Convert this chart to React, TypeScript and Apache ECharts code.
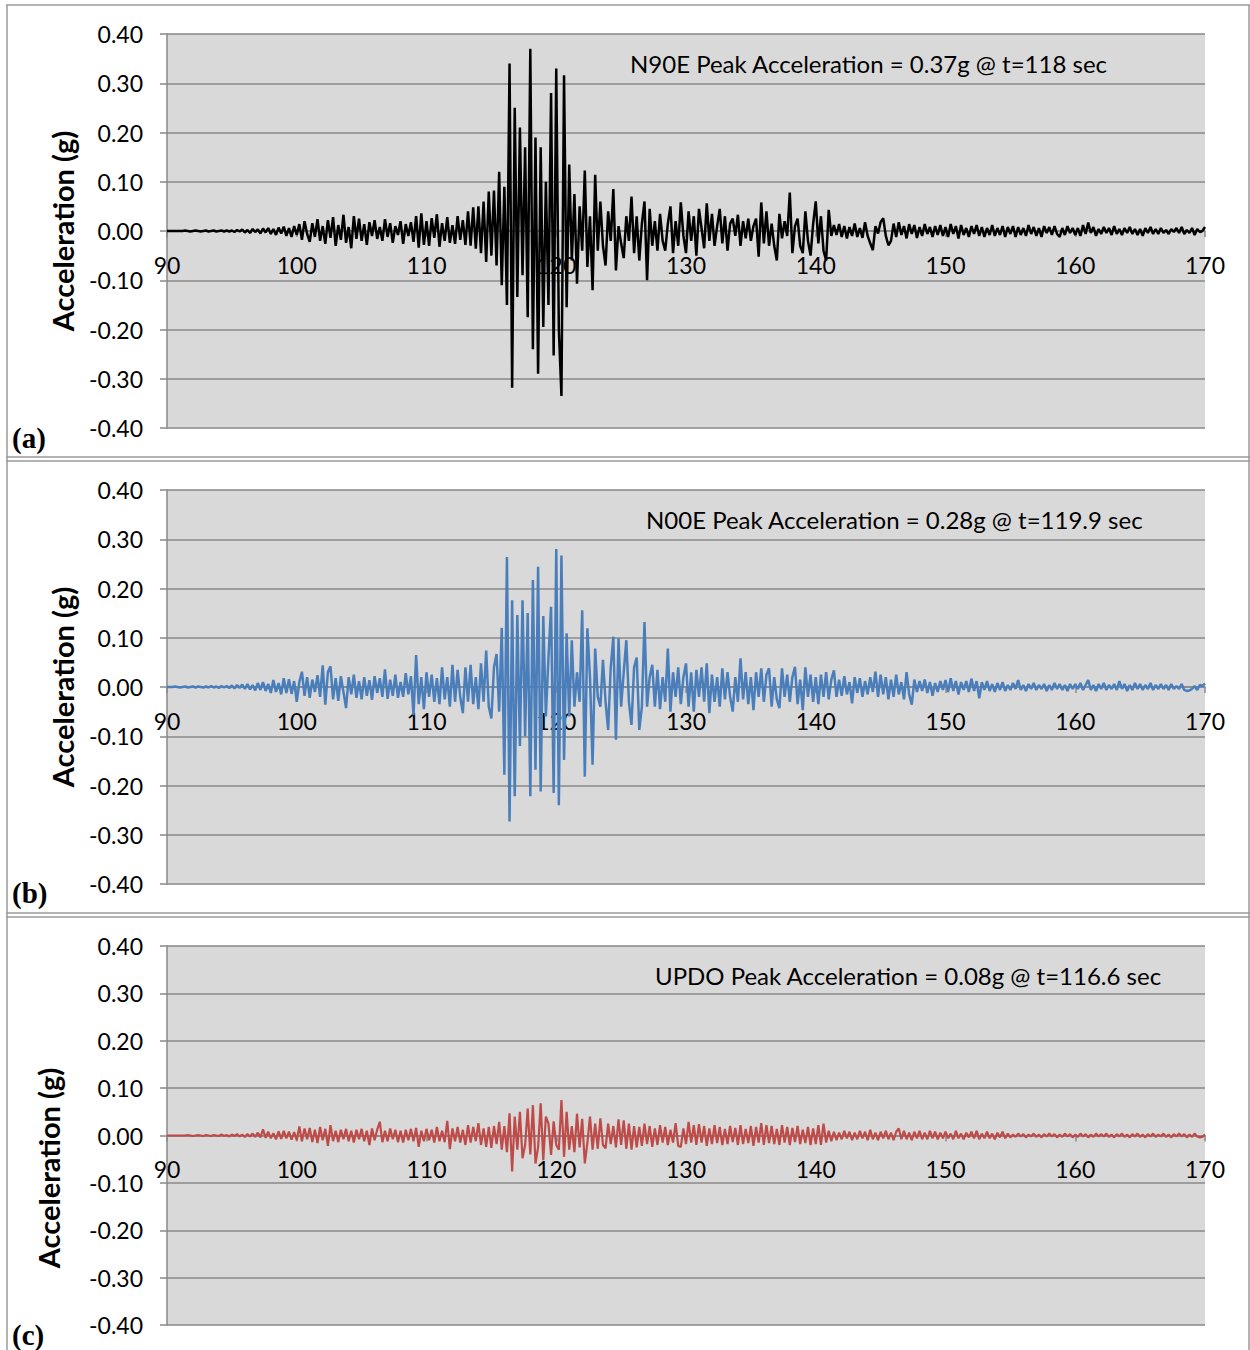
import React, { useEffect, useRef } from "react";
import * as echarts from "echarts";

// Sampling grid of the records (seconds)
const T0 = 90;
const DT = 0.2;

// Tick labels
const xTicks = [90, 100, 110, 120, 130, 140, 150, 160, 170];
const yTicks = [-0.4, -0.3, -0.2, -0.1, 0, 0.1, 0.2, 0.3, 0.4];

// Titles and panel letters
const titles = [
  "N90E Peak Acceleration = 0.37g @ t=118 sec",
  "N00E Peak Acceleration = 0.28g @ t=119.9 sec",
  "UPDO Peak Acceleration = 0.08g @ t=116.6 sec",
];
const panelLetters = ["(a)", "(b)", "(c)"];

// Acceleration values in milli-g, one every 0.2 s from 90 s to 170 s
const n90eMilliG = [
  0, 0, 0, 0, 0, 0, 0, 1, 0, -1, 0, 1, 0, -1, 0, 1, -1, 0, 1, -1, 0, 1, -1, 1, -1,
  1, -2, 2, -1, 3, -3, 2, -4, 4, -2, 3, -5, 5, -3, 6, -6, 4, -8, 7, -5, 9, -10, 6, -12, 10,
  -8, 14, -18, 20, -6, -22, 16, -12, 24, -20, 10, -26, 22, -14, 28, -30, 12, -18, 33, -24, 8, -35, 30, -16, 25,
  -20, 14, -28, 18, -10, 22, -16, 8, -20, 24, -12, 16, -24, 10, -8, 20, -26, 14, -10, 18, -22, 30, -34, 36, -28,
  20, -30, 26, -14, 34, -32, 16, -20, 28, -24, 12, -26, 30, -18, 22, -28, 40, -30, 48, -36, 50, -45, 60, -63, 80,
  -50, 82, -70, 120, -110, 90, -150, 340, -318, 250, -134, 210, -90, 170, -175, 370, -240, 190, -290, 170, -195, 100, -150, 280, -253,
  330, -200, -335, 316, -155, 135, -60, 75, -107, 50, -40, 123, -73, 30, -120, 114, -40, 60, -30, -70, 40, -20, 85, -80, 10,
  -25, -55, 30, -20, 70, -45, 30, -60, 15, 60, -100, 45, -30, 20, -40, 35, -20, -40, 15, 50, -45, 20, -30, 58, -10,
  -45, 40, -20, 30, -50, 45, 5, -35, 56, -20, 35, -30, 10, 45, -25, 30, -40, 15, 25, -10, 33, -30, 20, -15, 25,
  -20, 10, 25, -52, 58, -25, 40, -30, 15, -30, -60, 35, -15, 20, -10, 78, -45, 10, 25, -30, -45, 40, -20, -50, 15,
  60, -25, 30, -40, -60, 43, -10, 12, -8, 14, -12, 10, -15, 8, -10, 15, -12, 6, -14, 18, -10, -25, -39, 10, -5,
  18, 26, -10, -29, -20, 15, -12, 18, -8, 10, -15, 14, -6, 12, -14, 8, -10, 14, -6, 8, -12, 10, -8, 12, -10,
  8, -12, 14, -6, 10, -15, 12, -8, 6, -12, 10, -6, 12, -10, 8, -12, 6, -8, 12, -10, 6, -8, 10, -12, 8,
  -6, 10, -12, 8, -8, 6, -10, 12, -6, 8, -10, 6, -12, 10, -4, 8, -8, 10, -6, -12, 6, -8, 10, -4, 6,
  -8, 6, -10, 12, -6, 17, -4, 8, -10, 4, -6, 8, -4, 6, -8, 10, -6, 4, -8, 6, -4, 8, -6, 4, -8,
  4, -10, 6, -4, 8, -6, 4, -6, 6, -4, 2, -6, 4, -2, 6, -4, 8, -6, 2, -4, 6, -8, 4, -2, 0,
  8,
];

const n00eMilliG = [
  0, 0, 0, 1, 0, -1, 0, 1, -1, 0, 1, -1, 1, 0, -1, 1, -1, 2, -1, 1, -2, 2, -1, 2, -2,
  3, -3, 4, -2, 5, -4, 6, -5, 4, -7, 8, -6, 10, -8, 6, -12, 14, -10, 8, -15, 18, -12, 16, -14, 12,
  -30, 10, 31, -18, 20, -22, 15, -10, 24, -20, 44, -36, 30, 42, -25, 18, -28, 22, -10, -43, 20, -15, 25, -22, 12,
  -25, 20, -18, 14, -26, 22, -12, 18, -20, 36, -24, 15, -18, 25, -22, 10, -20, 28, -15, 22, -57, 65, -35, 20, -45,
  30, -20, 25, -30, 18, -35, 40, -25, 20, -40, 45, -30, 35, -20, -53, 40, -30, 45, -35, 20, -45, 48, -30, 74, -40,
  -64, 40, 67, -50, 120, -178, 264, -273, 176, -222, 146, -120, 176, -100, 150, -222, 217, -168, 244, -212, 144, -60, 60, 163, -215,
  280, -240, 267, -148, 109, -60, 95, -40, 30, -30, 156, -182, 119, 20, -158, 78, -20, -40, 55, -30, -87, 40, 102, -107, 99,
  -40, 30, 95, -30, -77, 40, 60, -87, -40, 132, -40, 20, 45, -40, 35, -45, 20, -30, 78, -50, 30, -20, 40, -35, 20,
  48, -40, 30, -50, 35, -20, 40, -30, 48, -53, 25, -30, 20, -40, 38, -25, 30, -20, -50, 20, -30, 58, -25, 30, -35,
  20, -47, 30, -20, 38, -30, 25, 38, -40, 20, -25, -43, 38, -20, 25, -30, 20, 41, -35, 15, -47, 40, -20, 25, -30,
  20, -35, 25, -20, 30, -25, 15, 34, -20, 15, -18, 22, -15, 10, -33, 20, -12, 18, -20, 12, -15, 20, -10, 31, -20,
  25, -15, 20, -25, 15, -20, 25, -15, 10, -25, 30, -15, -36, 15, -10, 12, -8, 15, -12, 10, -18, 8, -10, 12, -6,
  14, -10, 18, -8, 12, -15, 10, -6, 12, -10, 17, -8, 12, -23, 10, -6, 12, -8, 6, -10, 8, -6, 10, -8, 4,
  -6, 8, -4, 14, -6, 4, -8, 6, -4, 8, -6, 4, -4, 6, -8, 4, -6, 8, -4, 6, -6, 4, -8, 6, -4,
  6, -4, 8, -6, 4, 14, -6, 4, -8, 6, -4, 8, -6, 4, -4, 6, -6, 12, -4, 6, -8, 4, -6, 8, -4,
  6, -6, 4, -4, 8, -6, 4, -4, 6, -4, 4, -6, 6, -4, 2, -4, 6, -6, -8, -7, -4, 2, -6, 4, 2,
  7,
];

const updoMilliG = [
  0, 0, 0, 0, 0, 0, 0, 0, 1, 0, -1, 0, 1, 0, -1, 1, 0, -1, 1, 0, -1, 2, -1, 1, -2,
  2, -1, 3, -2, 2, -3, 3, -2, 4, -3, 6, -4, 13, -5, 8, -6, 5, -8, 9, -7, 10, -6, 8, -9, 7,
  -10, 19, -12, 15, -8, 16, -14, 12, -16, 18, -10, 14, -22, 22, -12, 10, -14, 12, -8, 14, -12, 10, -15, 12, -8,
  14, -12, 10, -20, 15, -10, 12, 29, -14, 10, -12, 15, -8, 12, -14, 10, -15, 12, -10, 14, -12, 16, -24, 10, -12,
  14, -10, 12, -15, 18, -12, 10, -14, 31, -29, 15, -12, 18, -15, 12, -20, 22, -15, 18, -12, 26, -20, 15, -24, 18,
  -26, 20, -18, 29, -30, 20, -35, 47, -76, 40, -30, 50, -48, -20, 57, -40, 64, -59, -25, 68, -52, 40, 25, -41, 30,
  -20, -30, 75, -45, 50, -30, 20, -35, 46, -25, 35, -59, -15, 40, -30, 25, -28, 36, -20, -27, 25, -18, 20, -25, 34,
  -20, 32, -28, 25, -30, 20, -25, 18, -22, 25, -18, 20, -24, 15, -20, 22, -15, 18, -20, 12, -15, 26, -22, -24, 15,
  -18, 29, -15, 22, -20, 24, -15, 20, -22, 15, -18, 22, -16, 18, -20, 14, -18, 20, -14, 16, -20, 22, -18, 14, -16,
  20, -22, 18, -15, 26, -20, 22, -16, 20, -18, 14, -20, 22, -15, 18, -20, 16, -14, 20, -18, 12, -16, 18, -20, 15,
  -18, 22, -20, 25, -15, 10, -12, 8, -10, 6, -8, 10, -6, 8, -10, 6, -8, 10, -6, 8, -10, 12, -8, 6, -10,
  8, -6, 10, -8, 6, -10, 8, 15, -8, 10, -8, 6, -10, 8, -6, 10, -8, 6, -8, 10, -6, 8, -8, 6, -6,
  8, -6, 4, -8, 10, -6, 4, -8, 6, -4, 8, -6, 10, -8, 4, -6, 8, -6, 4, -8, 6, -4, 8, -6, 4,
  -4, 2, -3, 4, -2, 3, -4, 2, -2, 4, -3, 2, -4, 3, -2, 4, -2, 3, -4, 2, -3, 4, -2, 3, -4,
  2, -3, 4, -2, 3, -4, 2, -3, 4, -2, 3, -2, 4, -3, 2, -4, 3, -2, 4, -3, 2, -4, 3, -2, 4,
  -3, 2, -4, 3, -2, 4, -3, 2, -2, 4, -3, 2, -4, 3, -2, 4, -2, 3, -4, 2, -3, 4, -2, -4, -3,
  2,
];

const seriesColors = ["#000000", "#4a7ebb", "#be4b48"];
const seriesData = [n90eMilliG, n00eMilliG, updoMilliG];

const FONT = "Lato, 'Liberation Sans', sans-serif";
const GRID_COLOR = "#888888";

const grids = [
  { left: 167, top: 34, width: 1038, height: 394 },
  { left: 167, top: 490, width: 1038, height: 394 },
  { left: 167, top: 946, width: 1038, height: 379 },
];
const titlePos = [
  { x: 630, y: 63 },
  { x: 646, y: 519 },
  { x: 655, y: 975 },
];
const yNamePos = [
  { x: 62, y: 231 },
  { x: 62, y: 687 },
  { x: 48, y: 1168 },
];
const letterPos = [
  { x: 12, y: 438 },
  { x: 12, y: 893 },
  { x: 12, y: 1335 },
];

function toPoints(arr: number[]) {
  return arr.map((v, i) => [Number((T0 + i * DT).toFixed(1)), v / 1000]);
}

export default function App() {
  const ref = useRef<HTMLDivElement>(null);

  useEffect(() => {
    if (!ref.current) return;
    const chart = echarts.init(ref.current, undefined, { renderer: "svg" });

    const graphics: any[] = [];
    const frameStyle = { stroke: "#9a9a9a", lineWidth: 1.5 };
    const hLines = [5, 457, 461, 913, 917];
    hLines.forEach((y) =>
      graphics.push({ type: "line", shape: { x1: 6, y1: y, x2: 1250, y2: y }, style: frameStyle })
    );
    graphics.push({ type: "line", shape: { x1: 7, y1: 5, x2: 7, y2: 1350 }, style: frameStyle });
    graphics.push({ type: "line", shape: { x1: 1249, y1: 5, x2: 1249, y2: 1350 }, style: frameStyle });

    titles.forEach((t, i) => {
      graphics.push({
        type: "text",
        x: titlePos[i].x,
        y: titlePos[i].y,
        z: 10,
        style: { text: t, fontSize: 24, fontFamily: FONT, fill: "#000", align: "left", verticalAlign: "middle" },
      });
      graphics.push({
        type: "text",
        x: yNamePos[i].x,
        y: yNamePos[i].y,
        rotation: Math.PI / 2,
        style: {
          text: "Acceleration (g)",
          fontSize: 29,
          fontWeight: "bold",
          fontFamily: FONT,
          fill: "#000",
          align: "center",
          verticalAlign: "middle",
        },
      });
      graphics.push({
        type: "text",
        x: letterPos[i].x,
        y: letterPos[i].y,
        style: {
          text: panelLetters[i],
          fontSize: 29,
          fontWeight: "bold",
          fontFamily: "'Liberation Serif', 'DejaVu Serif', serif",
          fill: "#000",
          align: "left",
          verticalAlign: "middle",
        },
      });
    });

    const option: any = {
      animation: false,
      backgroundColor: "#ffffff",
      grid: grids.map((g) => ({
        ...g,
        show: true,
        backgroundColor: "#d9d9d9",
        borderWidth: 0,
        containLabel: false,
      })),
      xAxis: grids.map((g, i) => ({
        type: "value",
        gridIndex: i,
        position: "bottom",
        offset: -g.height / 2,
        min: xTicks[0],
        max: xTicks[xTicks.length - 1],
        interval: xTicks[1] - xTicks[0],
        axisLine: { show: true, onZero: false, lineStyle: { color: GRID_COLOR, width: 1.5 } },
        axisTick: { show: true, inside: false, length: 6, lineStyle: { color: GRID_COLOR, width: 1.5 } },
        splitLine: { show: false },
        axisLabel: {
          show: true,
          margin: 22,
          fontSize: 23,
          fontFamily: FONT,
          color: "#000",
          formatter: (v: number) => String(v),
        },
      })),
      yAxis: grids.map((_, i) => ({
        type: "value",
        gridIndex: i,
        min: yTicks[0],
        max: yTicks[yTicks.length - 1],
        interval: 0.1,
        axisLine: { show: true, onZero: false, lineStyle: { color: GRID_COLOR, width: 1.5 } },
        axisTick: { show: true, inside: false, length: 7, lineStyle: { color: GRID_COLOR, width: 1.5 } },
        splitLine: { show: true, lineStyle: { color: GRID_COLOR, width: 1.5 } },
        axisLabel: {
          show: true,
          margin: 24,
          fontSize: 23,
          fontFamily: FONT,
          color: "#000",
          formatter: (v: number) => (Math.abs(v) < 1e-9 ? "0.00" : v.toFixed(2)),
        },
      })),
      series: seriesData.map((arr, i) => ({
        type: "line",
        xAxisIndex: i,
        yAxisIndex: i,
        data: toPoints(arr),
        showSymbol: false,
        symbol: "none",
        lineStyle: { color: seriesColors[i], width: i === 2 ? 2.2 : 2.5 },
        z: 3,
      })),
      graphic: graphics,
    };

    chart.setOption(option);
    return () => chart.dispose();
  }, []);

  return (
    <div
      ref={ref}
      style={{ position: "absolute", left: 0, top: 0, width: 1250, height: 1350, background: "#fff" }}
    />
  );
}
